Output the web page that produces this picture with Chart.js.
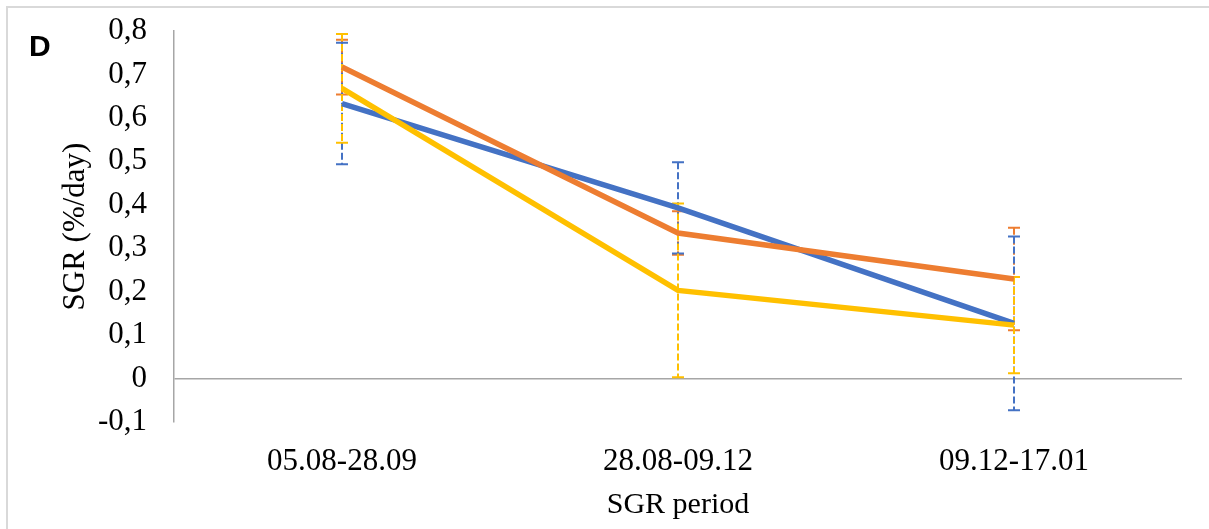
<!DOCTYPE html>
<html>
<head>
<meta charset="utf-8">
<script src="https://cdn.jsdelivr.net/npm/chart.js@4/dist/chart.umd.min.js"></script>
<style>
  html, body { margin: 0; padding: 0; background: #fff; }
  #wrap { width: 1209px; height: 529px; position: relative; }
</style>
</head>
<body>
<div id="wrap"><canvas id="sgr-chart"></canvas></div>
<script>
  var periods = ["05.08-28.09", "28.08-09.12", "09.12-17.01"];

  var blueValues = [0.633, 0.393, 0.127];
  var blueErrors = [0.14, 0.105, 0.2];
  var orangeValues = [0.717, 0.335, 0.229];
  var orangeErrors = [0.063, 0.05, 0.118];
  var yellowValues = [0.668, 0.203, 0.123];
  var yellowErrors = [0.125, 0.2, 0.111];

  var BLUE = "#4472c4", ORANGE = "#ed7d31", YELLOW = "#ffc000";
  var SERIF = "'Liberation Serif', 'Times New Roman', serif";

  function series(label, values, errors, color, order) {
    return {
      label: label,
      data: values,
      errors: errors,
      borderColor: color,
      backgroundColor: color,
      borderWidth: 5.5,
      pointRadius: 0,
      tension: 0,
      order: order
    };
  }

  // dashed error bars with small caps, drawn under the lines
  var errorBars = {
    id: "errorBars",
    beforeDatasetsDraw: function (chart) {
      var ctx = chart.ctx;
      var x = chart.scales.x, y = chart.scales.y;
      [1, 0, 2].forEach(function (i) {
        var ds = chart.data.datasets[i];
        ctx.save();
        ctx.strokeStyle = ds.borderColor;
        ctx.lineWidth = 2;
        ds.data.forEach(function (v, j) {
          var px = x.getPixelForValue(j);
          var top = y.getPixelForValue(v + ds.errors[j]);
          var bot = y.getPixelForValue(v - ds.errors[j]);
          ctx.setLineDash([7, 3]);
          ctx.beginPath();
          ctx.moveTo(px, top);
          ctx.lineTo(px, bot);
          ctx.stroke();
          ctx.setLineDash([]);
          ctx.beginPath();
          ctx.moveTo(px - 6, top); ctx.lineTo(px + 6, top);
          ctx.moveTo(px - 6, bot); ctx.lineTo(px + 6, bot);
          ctx.stroke();
        });
        ctx.restore();
      });
    }
  };

  // panel letter and light frame like the source figure
  var panelDecor = {
    id: "panelDecor",
    afterDraw: function (chart) {
      var ctx = chart.ctx;
      ctx.save();
      ctx.strokeStyle = "#d9d9d9";
      ctx.lineWidth = 2;
      ctx.beginPath();
      ctx.moveTo(7, chart.height);
      ctx.lineTo(7, 7);
      ctx.lineTo(chart.width, 7);
      ctx.stroke();
      ctx.fillStyle = "#000";
      ctx.font = "bold 30px 'Liberation Sans', Arial, sans-serif";
      ctx.textBaseline = "alphabetic";
      ctx.fillText("D", 29, 56);
      ctx.restore();
    }
  };

  new Chart(document.getElementById("sgr-chart"), {
    type: "line",
    data: {
      labels: periods,
      datasets: [
        series("Series 1", blueValues, blueErrors, BLUE, 3),
        series("Series 2", orangeValues, orangeErrors, ORANGE, 2),
        series("Series 3", yellowValues, yellowErrors, YELLOW, 1)
      ]
    },
    options: {
      responsive: true,
      maintainAspectRatio: false,
      animation: false,
      layout: { padding: { left: 57, top: 31, right: 27, bottom: 9 } },
      plugins: {
        legend: { display: false },
        tooltip: { enabled: false }
      },
      scales: {
        x: {
          offset: true,
          afterFit: function (scale) { scale.height = 98; },
          grid: { display: false, drawTicks: false },
          border: { display: false },
          ticks: {
            color: "#000",
            padding: 24,
            autoSkip: false,
            maxRotation: 0,
            font: { family: SERIF, size: 31, lineHeight: 1 }
          },
          title: {
            display: true,
            text: "SGR period",
            color: "#000",
            padding: { top: 10, bottom: 0 },
            font: { family: SERIF, size: 30, lineHeight: 1 }
          }
        },
        y: {
          min: -0.1,
          max: 0.8,
          afterFit: function (scale) {
            scale.width = 117;
            scale.paddingTop = 0;
            scale.paddingBottom = 0;
          },
          grid: {
            drawTicks: false,
            lineWidth: 1.5,
            color: function (c) { return c.tick && Math.abs(c.tick.value) < 1e-9 ? "#a6a6a6" : "rgba(0,0,0,0)"; }
          },
          border: { display: true, color: "#a6a6a6", width: 1.5 },
          ticks: {
            stepSize: 0.1,
            autoSkip: false,
            color: "#000",
            padding: 27,
            font: { family: SERIF, size: 31 },
            callback: function (v) {
              var r = Math.round(v * 10) / 10;
              return r === 0 ? "0" : r.toFixed(1).replace(".", ",");
            }
          },
          title: {
            display: true,
            text: "SGR (%/day)",
            color: "#000",
            padding: { top: 0, bottom: 4 },
            font: { family: SERIF, size: 31 }
          }
        }
      }
    },
    plugins: [errorBars, panelDecor]
  });
</script>
</body>
</html>
